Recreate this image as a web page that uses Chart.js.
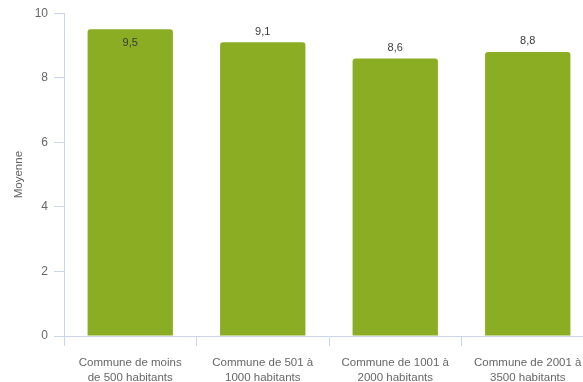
<!DOCTYPE html>
<html>
<head>
<meta charset="utf-8">
<script src="https://cdn.jsdelivr.net/npm/chart.js@4/dist/chart.umd.min.js"></script>
<style>
  html, body { margin: 0; padding: 0; background: #fff; }
  #frame { width: 583px; height: 382px; overflow: hidden; position: relative; }
  #box { width: 594px; height: 382px; position: absolute; left: 0; top: 0; }
</style>
</head>
<body>
<div id="frame"><div id="box"><canvas id="c"></canvas></div></div>
<script>
const categories = [
  ['Commune de moins', 'de 500 habitants'],
  ['Commune de 501 à', '1000 habitants'],
  ['Commune de 1001 à', '2000 habitants'],
  ['Commune de 2001 à', '3500 habitants']
];
const moyennes = [9.5, 9.1, 8.6, 8.8];
const yTicks = [0, 2, 4, 6, 8, 10];

const axisColor = '#ccd6eb';
const textColor = '#666666';
const fontFamily = '"Liberation Sans", Arial, sans-serif';

// Writes each value (decimal comma) above its bar, or just inside the top when there is no room
const valueLabels = {
  id: 'valueLabels',
  afterDatasetsDraw(chart) {
    const ctx = chart.ctx;
    const meta = chart.getDatasetMeta(0);
    ctx.save();
    ctx.font = '11px ' + fontFamily;
    ctx.fillStyle = '#3a3a3a';
    ctx.textAlign = 'center';
    meta.data.forEach((bar, i) => {
      const txt = moyennes[i].toFixed(1).replace('.', ',');
      let y = bar.y - 5;
      if (y - 12 < chart.chartArea.top) {
        ctx.textBaseline = 'top';
        y = bar.y + 8;
      } else {
        ctx.textBaseline = 'bottom';
      }
      ctx.fillText(txt, bar.x, y);
    });
    ctx.restore();
  }
};

new Chart(document.getElementById('c'), {
  type: 'bar',
  data: {
    labels: categories,
    datasets: [{
      data: moyennes,
      backgroundColor: '#8bad24',
      borderWidth: 0,
      borderRadius: { topLeft: 3, topRight: 3 },
      borderSkipped: 'bottom',
      barPercentage: 1,
      categoryPercentage: 0.644
    }]
  },
  options: {
    responsive: true,
    maintainAspectRatio: false,
    animation: false,
    layout: { padding: { top: 11, right: 0, left: 0, bottom: 0 } },
    plugins: { legend: { display: false }, tooltip: { enabled: false } },
    scales: {
      x: {
        offset: true,
        grid: { offset: true, drawOnChartArea: false, drawTicks: true, tickLength: 10, color: axisColor },
        border: { color: axisColor, width: 1 },
        ticks: { color: textColor, font: { family: fontFamily, size: 11.5, lineHeight: 1.3 }, padding: 9, maxRotation: 0 },
        afterFit(s) { s.height = 46; }
      },
      y: {
        min: 0,
        max: 10,
        afterBuildTicks(s) { s.ticks = yTicks.map(v => ({ value: v })); },
        grid: { drawOnChartArea: false, drawTicks: true, tickLength: 10, color: axisColor },
        border: { color: axisColor, width: 1 },
        ticks: { color: textColor, font: { family: fontFamily, size: 12 }, padding: 6 },
        title: { display: true, text: 'Moyenne', color: textColor, font: { family: fontFamily, size: 11.5 }, padding: { top: 12, bottom: 0 } },
        afterFit(s) { s.width = 64; }
      }
    }
  },
  plugins: [valueLabels]
});
</script>
</body>
</html>
